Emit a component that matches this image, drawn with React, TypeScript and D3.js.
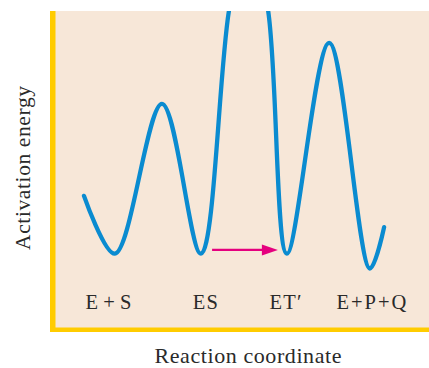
import React from "react";
import * as d3 from "d3";

// Reaction coordinate (arbitrary units 0-100) and activation energy (0-100) at the curve's turning points
const reactionCoord = [7.75, 16.0, 28.6, 39.0, 46.5, 51.6, 57.0, 62.0, 73.3, 84.2, 88.0];
const energy = [41.5, 23.2, 70.6, 23.2, 100, 128.8, 100, 23.2, 89.9, 18.5, 31.6];

// State labels along the reaction coordinate
const stateLabels = ["E + S", "ES", "ET\u2032", "E+P+Q"];
const statePositions = [14.3, 40.2, 61.6, 84.6];
const stateWidths = [46, 25, 32, 70];

// Arrow ES -> ET'
const arrowFrom = [42.0, 24.4];
const arrowTo = [59.6, 24.4];

const W = 429;
const H = 368;

export default function App() {
  const left = 55;
  const right = 429;
  const top = 11;
  const bottom = 327;
  const x = d3.scaleLinear().domain([0, 100]).range([left, right]);
  const y = d3.scaleLinear().domain([0, 100]).range([bottom, top]);

  const pts: [number, number][] = reactionCoord.map((c, i) => [c, energy[i]]);
  const line = d3
    .line<[number, number]>()
    .x((d) => x(d[0]))
    .y((d) => y(d[1]))
    .curve(d3.curveCatmullRom.alpha(0.5));

  const fontFamily = "'Liberation Serif', 'Times New Roman', serif";
  const textColor = "#2a2a2a";
  const labelY = 309;

  const ax1 = x(arrowFrom[0]);
  const ax2 = x(arrowTo[0]);
  const ay = y(arrowFrom[1]);

  return (
    <svg width={W} height={H} style={{ position: "absolute", left: 0, top: 0 }}>
      <defs>
        <clipPath id="plotClip">
          <rect x={left} y={top} width={right - left} height={bottom - top} />
        </clipPath>
      </defs>
      <rect x={0} y={0} width={W} height={H} fill="#ffffff" />
      <rect x={50} y={top} width={W - 50} height={332 - top} fill="#f7e7d8" />
      <rect x={50} y={top} width={5.5} height={332 - top} fill="#ffcc00" />
      <rect x={50} y={327.5} width={W - 50} height={4.5} fill="#ffcc00" />

      <g clipPath="url(#plotClip)">
        <path d={line(pts) || ""} fill="none" stroke="#0a8bd0" strokeWidth={4.3} strokeLinejoin="round" strokeLinecap="round" />
      </g>

      <line x1={ax1} y1={ay} x2={ax2 - 14} y2={ay} stroke="#e5007e" strokeWidth={2.4} />
      <path d={`M${ax2},${ay} L${ax2 - 16},${ay - 5.5} L${ax2 - 16},${ay + 5.5} Z`} fill="#e5007e" />

      {stateLabels.map((s, i) => (
        <text
          key={s}
          x={x(statePositions[i])}
          y={labelY}
          textAnchor="middle"
          fontFamily={fontFamily}
          fontSize={20.5}
          fill={textColor}
          textLength={stateWidths[i]}
          lengthAdjust="spacing"
        >
          {s}
        </text>
      ))}

      <text
        transform={`translate(30,${168}) rotate(-90)`}
        textAnchor="middle"
        fontFamily={fontFamily}
        fontSize={21.5}
        fill={textColor}
        textLength={164}
        lengthAdjust="spacing"
      >
        Activation energy
      </text>
      <text
        x={248}
        y={363}
        textAnchor="middle"
        fontFamily={fontFamily}
        fontSize={22}
        fill={textColor}
        textLength={187}
        lengthAdjust="spacing"
      >
        Reaction coordinate
      </text>
    </svg>
  );
}
